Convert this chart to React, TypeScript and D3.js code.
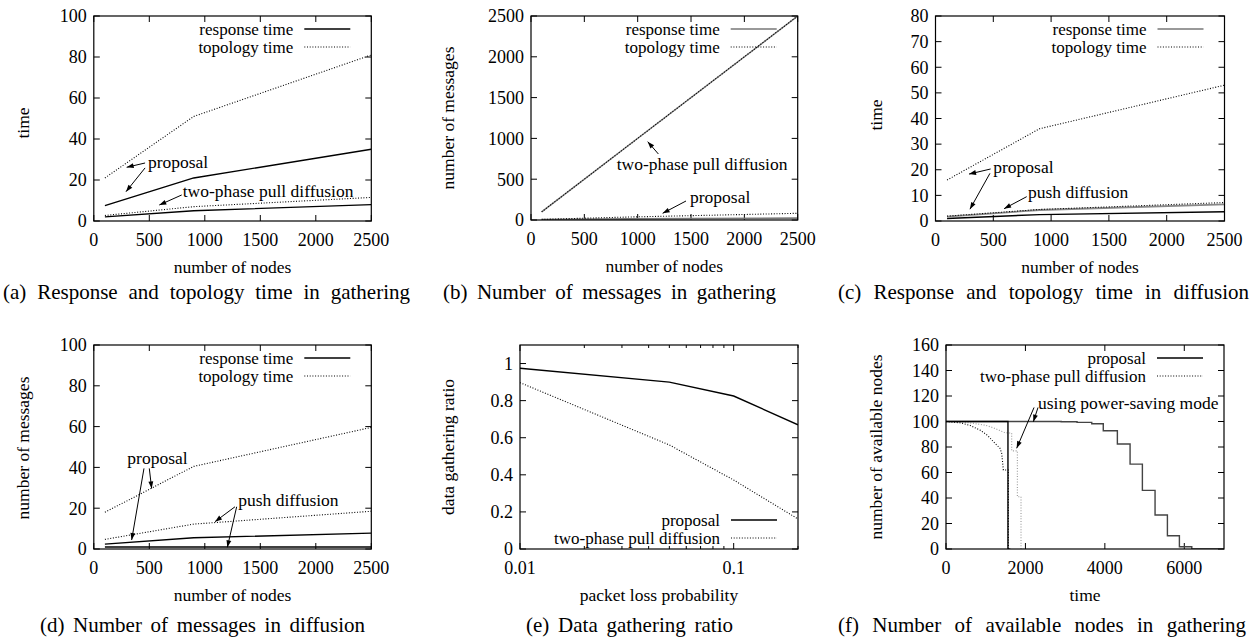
import React, { useEffect, useRef } from "react";
import * as d3 from "d3";

const FONT = "'Liberation Serif', 'Times New Roman', serif";

// ---------- data ----------
const nodeCounts = [100, 900, 2500];

// (a) response and topology time in gathering
const aProposalResponse = [7.5, 21, 35];
const aProposalTopology = [21, 51, 81];
const aPullResponse = [2, 5, 8];
const aPullTopology = [2.7, 7, 11.5];

// (b) number of messages in gathering
const bPullResponse = [100, 900, 2500];
const bPullTopology = [100, 900, 2500];
const bProposalResponse = [4, 12, 22];
const bProposalTopology = [8, 36, 82];

// (c) response and topology time in diffusion
const cProposalTopology = [16, 36, 53];
const cProposalResponse = [1.7, 4.3, 6.5];
const cPushTopology = [1.9, 4.5, 7.2];
const cPushResponse = [1, 2.5, 3.6];

// (d) number of messages in diffusion
const dProposalTopology = [18, 40.5, 59.6];
const dProposalResponse = [2.4, 5.5, 7.8];
const dPushTopology = [4.7, 12.2, 18.5];
const dPushResponse = [1, 1, 1];

// (e) data gathering ratio
const lossProb = [0.01, 0.05, 0.1, 0.2];
const eProposal = [0.975, 0.9, 0.825, 0.67];
const ePull = [0.897, 0.561, 0.372, 0.162];

// (f) number of available nodes in gathering
const fProposalTime = [0, 1560, 1560, 1600];
const fProposalNodes = [100, 100, 0, 0];
const fProposalSaveTime = [0, 2900, 3300, 3670, 3960, 4315, 4635, 4945, 5264, 5575, 5877, 6189, 7000];
const fProposalSaveNodes = [100, 99.8, 99.3, 98.2, 92.8, 82.3, 66.6, 46, 26.7, 10.4, 1.8, 0, 0];
const fPullTime = [0, 350, 600, 856, 1050, 1192, 1360, 1403, 1444, 1570, 1570, 1620];
const fPullNodes = [100, 99, 97, 93.3, 89, 84.2, 79, 75, 62, 62, 0, 0];
const fPullSaveTime = [0, 400, 700, 1000, 1200, 1350, 1460, 1560, 1654, 1654, 1797, 1797, 1889, 1889, 1950];
const fPullSaveNodes = [100, 99.7, 98.5, 97, 95, 93, 91.5, 91, 91, 77, 77, 41, 41, 0, 0];

// ticks
const nodeTicks = [0, 500, 1000, 1500, 2000, 2500];
const pctTicks = [0, 20, 40, 60, 80, 100];
const msgTicks = [0, 500, 1000, 1500, 2000, 2500];
const diffTimeTicks = [0, 10, 20, 30, 40, 50, 60, 70, 80];
const ratioTicks = [0, 0.2, 0.4, 0.6, 0.8, 1];
const lossTicks = [0.01, 0.1];
const lossMinorTicks = [0.02, 0.03, 0.04, 0.05, 0.06, 0.07, 0.08, 0.09, 0.2];
const timeTicks = [0, 2000, 4000, 6000];
const availTicks = [0, 20, 40, 60, 80, 100, 120, 140, 160];

type Series = { xs: number[]; ys: number[]; dotted?: boolean; color?: string; width?: number; step?: boolean };
type Label = { x: number; y: number; text: string };
type Arrow = [number, number, number, number];

type PanelCfg = {
  frame: { x0: number; x1: number; y0: number; y1: number };
  xDomain: [number, number];
  yDomain: [number, number];
  xLog?: boolean;
  xTicks: number[];
  xMinor?: number[];
  yTicks: number[];
  xLabel: string;
  yLabel: string;
  yLabelPos: [number, number];
  caption: string;
  captionX: [number, number];
  captionY: number;
  legend: { text: string; dotted?: boolean; color?: string }[];
  legendBottom?: boolean;
  series: Series[];
  labels: Label[];
  arrows: Arrow[];
};

const legendRT = [{ text: "response time" }, { text: "topology time", dotted: true }];
const legendRTGrey = [{ text: "response time", color: "#777" }, { text: "topology time", dotted: true }];
const legendPP = [{ text: "proposal" }, { text: "two-phase pull diffusion", dotted: true }];

const panels: PanelCfg[] = [
  {
    frame: { x0: 93.8, x1: 371.3, y0: 16, y1: 221 },
    xDomain: [0, 2500], yDomain: [0, 100], xTicks: nodeTicks, yTicks: pctTicks,
    xLabel: "number of nodes", yLabel: "time", yLabelPos: [23, 123],
    caption: "(a) Response and topology time in gathering", captionX: [3, 410], captionY: 292,
    legend: legendRT,
    series: [
      { xs: nodeCounts, ys: aProposalTopology, dotted: true },
      { xs: nodeCounts, ys: aProposalResponse },
      { xs: nodeCounts, ys: aPullTopology, dotted: true },
      { xs: nodeCounts, ys: aPullResponse },
    ],
    labels: [
      { x: 488, y: 28.8, text: "proposal" },
      { x: 801, y: 14.8, text: "two-phase pull diffusion" },
    ],
    arrows: [[462, 28.3, 296, 26.2], [462, 25.9, 290, 14.3], [792, 12.7, 590, 7.8]],
  },
  {
    frame: { x0: 531, x1: 797.7, y0: 16, y1: 220 },
    xDomain: [0, 2500], yDomain: [0, 2500], xTicks: nodeTicks, yTicks: msgTicks,
    xLabel: "number of nodes", yLabel: "number of messages", yLabelPos: [448, 118],
    caption: "(b) Number of messages in gathering", captionX: [443, 776], captionY: 292,
    legend: legendRTGrey,
    series: [
      { xs: nodeCounts, ys: bPullResponse, color: "#777" },
      { xs: nodeCounts, ys: bPullTopology, dotted: true },
      { xs: nodeCounts, ys: bProposalResponse, color: "#777", width: 1.8 },
      { xs: nodeCounts, ys: bProposalTopology, dotted: true },
    ],
    labels: [
      { x: 803, y: 682, text: "two-phase pull diffusion" },
      { x: 1491, y: 286, text: "proposal" },
    ],
    arrows: [[1194, 809, 1094, 960], [1453, 233, 1234, 82]],
  },
  {
    frame: { x0: 935.5, x1: 1224.5, y0: 16, y1: 221 },
    xDomain: [0, 2500], yDomain: [0, 80], xTicks: nodeTicks, yTicks: diffTimeTicks,
    xLabel: "number of nodes", yLabel: "time", yLabelPos: [875.7, 115],
    caption: "(c) Response and topology time in diffusion", captionX: [838, 1249], captionY: 292,
    legend: legendRTGrey,
    series: [
      { xs: nodeCounts, ys: cProposalTopology, dotted: true },
      { xs: nodeCounts, ys: cPushResponse },
      { xs: nodeCounts, ys: cProposalResponse, color: "#888", width: 1.8 },
      { xs: nodeCounts, ys: cPushTopology, dotted: true },
    ],
    labels: [
      { x: 500, y: 21.2, text: "proposal" },
      { x: 800, y: 11.4, text: "push diffusion" },
    ],
    arrows: [[477, 20.3, 290, 18.3], [471, 18.6, 298, 4.6], [789, 9.5, 593, 4.8]],
  },
  {
    frame: { x0: 93.8, x1: 371.3, y0: 345, y1: 549 },
    xDomain: [0, 2500], yDomain: [0, 100], xTicks: nodeTicks, yTicks: pctTicks,
    xLabel: "number of nodes", yLabel: "number of messages", yLabelPos: [23, 448],
    caption: "(d) Number of messages in diffusion", captionX: [40, 365], captionY: 625,
    legend: legendRT,
    series: [
      { xs: nodeCounts, ys: dProposalTopology, dotted: true },
      { xs: nodeCounts, ys: dPushTopology, dotted: true },
      { xs: nodeCounts, ys: dProposalResponse },
      { xs: nodeCounts, ys: dPushResponse },
    ],
    labels: [
      { x: 302, y: 44.8, text: "proposal" },
      { x: 1302, y: 24, text: "push diffusion" },
    ],
    arrows: [[452, 39.5, 341, 4.4], [500, 39.5, 521, 29.7], [1272, 20.7, 1092, 13.4], [1287, 20.7, 1203, 0.8]],
  },
  {
    frame: { x0: 520, x1: 798, y0: 345, y1: 549 },
    xDomain: [0.01, 0.2], yDomain: [0, 1.1], xLog: true, xTicks: lossTicks, xMinor: lossMinorTicks, yTicks: ratioTicks,
    xLabel: "packet loss probability", yLabel: "data gathering ratio", yLabelPos: [448, 447],
    caption: "(e) Data gathering ratio", captionX: [526, 733], captionY: 625,
    legend: legendPP, legendBottom: true,
    series: [
      { xs: lossProb, ys: eProposal },
      { xs: lossProb, ys: ePull, dotted: true },
    ],
    labels: [],
    arrows: [],
  },
  {
    frame: { x0: 946, x1: 1224, y0: 345, y1: 549 },
    xDomain: [0, 7000], yDomain: [0, 160], xTicks: timeTicks, yTicks: availTicks,
    xLabel: "time", yLabel: "number of available nodes", yLabelPos: [875.7, 447],
    caption: "(f) Number of available nodes in gathering", captionX: [838, 1246], captionY: 625,
    legend: legendPP,
    series: [
      { xs: fPullSaveTime, ys: fPullSaveNodes, dotted: true, color: "#999" },
      { xs: fPullTime, ys: fPullNodes, dotted: true },
      { xs: fProposalSaveTime, ys: fProposalSaveNodes, step: true, color: "#444" },
      { xs: fProposalTime, ys: fProposalNodes },
    ],
    labels: [{ x: 2317, y: 114.3, text: "using power-saving mode" }],
    arrows: [[2317, 111, 2199, 99.8], [2217, 111, 1780, 79]],
  },
];

const DOT = "1 1.7";

function Panel({ p, capRef }: { p: PanelCfg; capRef: (el: SVGTextElement | null) => void }) {
  const { x0, x1, y0, y1 } = p.frame;
  const x: any = p.xLog
    ? d3.scaleLog().domain(p.xDomain).range([x0, x1])
    : d3.scaleLinear().domain(p.xDomain).range([x0, x1]);
  const y = d3.scaleLinear().domain(p.yDomain).range([y1, y0]);
  const fmtY = d3.format("~g");
  const tick = 6;

  const path = (s: Series) =>
    d3
      .line<number>()
      .x((_, i) => x(s.xs[i]))
      .y((d) => y(d))
      .curve(s.step ? d3.curveStepAfter : d3.curveLinear)(s.ys) || "";

  const legTextX = x1 - 78;
  const legLine = [x1 - 67, x1 - 21];
  const legY = p.legendBottom ? [y1 - 29, y1 - 11] : [y0 + 13, y0 + 31];

  return (
    <g fontFamily={FONT}>
      <defs>
        <clipPath id={`clip-${x0}-${y0}`}>
          <rect x={x0} y={y0} width={x1 - x0} height={y1 - y0} />
        </clipPath>
      </defs>

      {/* ticks, inward on all four sides */}
      {p.yTicks.map((t) => (
        <g key={`y${t}`}>
          <line x1={x0} x2={x0 + tick} y1={y(t)} y2={y(t)} stroke="#000" />
          <line x1={x1} x2={x1 - tick} y1={y(t)} y2={y(t)} stroke="#000" />
          <text x={x0 - 7} y={y(t)} dy="0.35em" textAnchor="end" fontSize={18}>
            {fmtY(t)}
          </text>
        </g>
      ))}
      {p.xTicks.map((t) => (
        <g key={`x${t}`}>
          <line x1={x(t)} x2={x(t)} y1={y1} y2={y1 - tick} stroke="#000" />
          <line x1={x(t)} x2={x(t)} y1={y0} y2={y0 + tick} stroke="#000" />
          <text x={x(t)} y={y1 + 19} dy="0.35em" textAnchor="middle" fontSize={18}>
            {fmtY(t)}
          </text>
        </g>
      ))}
      {(p.xMinor || []).map((t) => (
        <g key={`m${t}`}>
          <line x1={x(t)} x2={x(t)} y1={y1} y2={y1 - 3} stroke="#000" />
          <line x1={x(t)} x2={x(t)} y1={y0} y2={y0 + 3} stroke="#000" />
        </g>
      ))}

      {/* data */}
      <g clipPath={`url(#clip-${x0}-${y0})`}>
        {p.series.map((s, i) => (
          <path
            key={i}
            d={path(s)}
            fill="none"
            stroke={s.color || "#000"}
            strokeWidth={s.width || (s.dotted ? 1.1 : 1.4)}
            strokeDasharray={s.dotted ? DOT : undefined}
          />
        ))}
      </g>

      {/* frame */}
      <rect x={x0} y={y0} width={x1 - x0} height={y1 - y0} fill="none" stroke="#000" strokeWidth={1.2} />

      {/* legend */}
      {p.legend.map((l, i) => (
        <g key={l.text}>
          <text x={legTextX} y={legY[i]} dy="0.35em" textAnchor="end" fontSize={17}>
            {l.text}
          </text>
          <line
            x1={legLine[0]}
            x2={legLine[1]}
            y1={legY[i]}
            y2={legY[i]}
            stroke={l.color || "#000"}
            strokeWidth={l.dotted ? 1.1 : 1.5}
            strokeDasharray={l.dotted ? DOT : undefined}
          />
        </g>
      ))}

      {/* annotations */}
      {p.labels.map((l) => (
        <text key={l.text} x={x(l.x)} y={y(l.y)} dy="0.35em" fontSize={17.5}>
          {l.text}
        </text>
      ))}
      {p.arrows.map((a, i) => (
        <line
          key={i}
          x1={x(a[0])}
          y1={y(a[1])}
          x2={x(a[2])}
          y2={y(a[3])}
          stroke="#000"
          strokeWidth={1}
          markerEnd="url(#arrowhead)"
        />
      ))}

      {/* axis titles */}
      <text x={(x0 + x1) / 2} y={y1 + 46} dy="0.35em" textAnchor="middle" fontSize={17.5}>
        {p.xLabel}
      </text>
      <text
        transform={`translate(${p.yLabelPos[0]},${p.yLabelPos[1]}) rotate(-90)`}
        dy="0.35em"
        textAnchor="middle"
        fontSize={17.5}
      >
        {p.yLabel}
      </text>

      {/* caption */}
      <text ref={capRef} x={p.captionX[0]} y={p.captionY} dy="0.35em" fontSize={21}>
        {p.caption}
      </text>
    </g>
  );
}

export default function App() {
  const capRefs = useRef<(SVGTextElement | null)[]>([]);

  // stretch word spacing so each caption spans the same width as in the figure
  useEffect(() => {
    panels.forEach((p, i) => {
      const el = capRefs.current[i];
      if (!el) return;
      el.style.wordSpacing = "0px";
      const len = el.getComputedTextLength();
      const spaces = (p.caption.match(/ /g) || []).length;
      const extra = (p.captionX[1] - p.captionX[0] - len) / spaces;
      el.style.wordSpacing = `${Math.max(0, extra)}px`;
    });
  }, []);

  return (
    <div style={{ position: "absolute", left: 0, top: 0 }}>
      <svg width={1254} height={639} style={{ display: "block", background: "#fff" }}>
        <defs>
          <marker
            id="arrowhead"
            viewBox="0 0 10 10"
            refX={10}
            refY={5}
            markerWidth={8}
            markerHeight={7}
            markerUnits="userSpaceOnUse"
            orient="auto"
          >
            <path d="M0,1.5 L10,5 L0,8.5 z" fill="#000" />
          </marker>
        </defs>
        {panels.map((p, i) => (
          <Panel key={i} p={p} capRef={(el) => (capRefs.current[i] = el)} />
        ))}
      </svg>
    </div>
  );
}
